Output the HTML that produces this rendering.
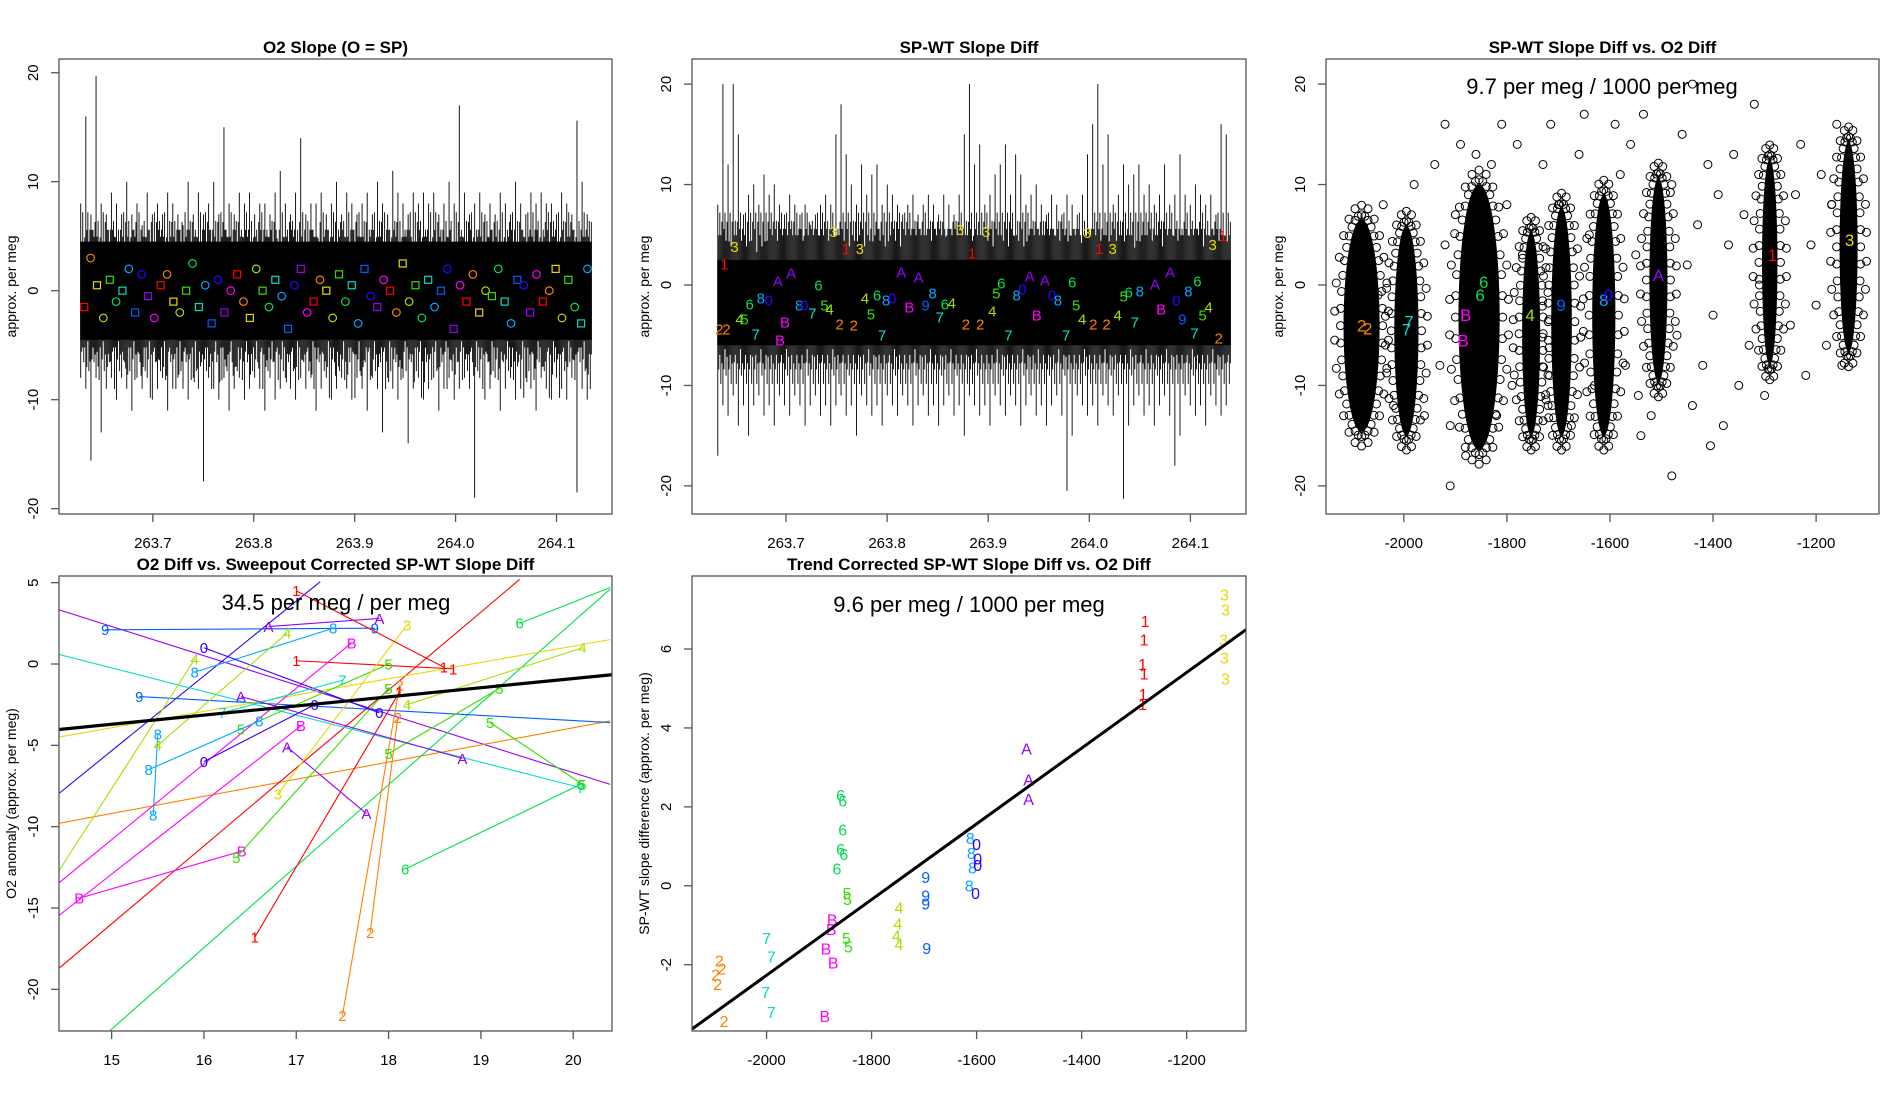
<!DOCTYPE html>
<html><head><meta charset="utf-8"><style>
body{margin:0;background:#fff}
svg{display:block;font-family:"Liberation Sans",sans-serif}
</style></head><body>
<svg id="s" width="1900" height="1100" xmlns="http://www.w3.org/2000/svg"></svg>
<script>
// ---------- data ----------
const palette = {'1':'#FF0000','2':'#FF8000','3':'#E8D800','4':'#A8E000','5':'#33E000','6':'#00E050','7':'#00E0C8','8':'#00A8FF','9':'#0060FF','0':'#3000FF','A':'#9900FF','B':'#FF00FF'};
const codes = ['1','2','3','4','5','6','7','8','9','0','A','B'];
// panel 1 spikes (100 bins)
const p1Hi = [8,16,7,19.7,8,7,9,8,7,10,7,8,6,9,7,8,7,9,8,7,6,10,7,9,7,8,10,7,15,8,7,9,8,9,7,8,8,7,9,11,8,7,9,14,7,8,8,9,7,8,10,7,9,8,7,8,9,7,10,8,7,11,9,8,7,9,8,9,8,9,7,8,10,8,17,9,7,8,9,7,8,7,9,8,7,10,8,7,9,8,9,8,8,7,9,8,7,15.6,10,7];
const p1Lo = [-8,-9,-15.6,-8,-13,-9,-8,-10,-8,-9,-11,-8,-9,-8,-10,-9,-8,-11,-9,-8,-9,-10,-8,-9,-17.5,-8,-9,-10,-8,-11,-9,-8,-10,-9,-8,-9,-11,-8,-10,-9,-8,-9,-10,-8,-9,-8,-11,-9,-8,-10,-9,-8,-9,-10,-8,-9,-11,-8,-9,-13,-8,-9,-10,-8,-14,-9,-8,-10,-9,-8,-11,-9,-8,-10,-9,-8,-9,-19,-8,-10,-9,-8,-11,-9,-8,-10,-9,-8,-9,-11,-8,-9,-10,-8,-9,-10,-8,-18.5,-9,-10];
const p1Marks = [-1.5,3,0.5,-2.5,1,-1,0,2,-2,1.5,-0.5,-2.5,0.5,1.5,-1,-2,0,2.5,-1.5,0.5,-3,1,-2,0,1.5,-1,-2.5,2,0,-1.5,1,-0.5,-3.5,0.5,2,-2,-1,1,0,-2.5,1.5,-1,0.5,-3,2,-0.5,-1.5,1,0,-2,2.5,-1,0.5,-2.5,1,-1.5,0,2,-3.5,0.5,-1,1.5,-2,0,-0.5,2,-1,-3,1,0.5,-2,1.5,-1,0,2,-2.5,1,-1.5,-3,2];
// panel 2 spikes (100 bins)
const p2Hi = [8,20,12,20,15,7,9,10,8,11,9,10,8,7,9,8,7,8,6,7,8,9,8,15,18,13,10,8,12,9,11,12,8,10,9,8,7,8,9,7,8,9,8,7,9,8,7,9,15,20,12,14,8,9,11,12,14,9,13,11,8,9,10,8,7,9,8,7,9,8,7,9,13,16,20,12,15,8,9,12,10,11,12,9,10,8,9,12,8,9,13,9,8,10,9,8,9,7,16,15];
const p2Lo = [-17,-12,-13,-11,-14,-12,-15,-12,-11,-13,-12,-14,-11,-12,-13,-11,-12,-14,-12,-11,-13,-12,-14,-12,-11,-13,-12,-15,-11,-12,-13,-12,-14,-11,-12,-13,-11,-12,-14,-12,-11,-13,-12,-14,-12,-11,-13,-12,-15,-11,-12,-13,-12,-14,-11,-12,-13,-11,-12,-14,-12,-11,-13,-12,-14,-12,-11,-13,-20.5,-15,-11,-12,-13,-12,-14,-11,-12,-13,-11,-21.3,-14,-12,-11,-13,-12,-14,-12,-11,-13,-18,-15,-11,-12,-13,-12,-14,-11,-12,-13,-12];
const p2LabT = [263.634,263.641,263.639,263.649,263.654,263.659,263.664,263.670,263.675,263.683,263.692,263.694,263.699,263.705,263.713,263.718,263.726,263.732,263.738,263.743,263.747,263.753,263.759,263.767,263.773,263.778,263.784,263.790,263.795,263.799,263.805,263.814,263.822,263.831,263.838,263.845,263.852,263.857,263.864,263.872,263.878,263.884,263.892,263.898,263.904,263.908,263.913,263.920,263.928,263.934,263.941,263.948,263.956,263.963,263.969,263.977,263.983,263.987,263.993,263.998,264.004,264.010,264.017,264.023,264.028,264.034,264.039,264.045,264.050,264.065,264.071,264.080,264.086,264.092,264.098,264.104,264.107,264.112,264.118,264.122,264.128,264.132];
const p2LabY = [-4.4,-4.4,2.1,3.8,-3.4,-3.4,-1.9,-4.9,-1.3,-1.5,0.4,-5.5,-3.7,1.2,-2,-2,-2.8,0,-2,-2.4,5.3,-3.9,3.6,-4,3.6,-1.3,-2.9,-1,-5,-1.5,-1.3,1.3,-2.2,0.8,-2,-0.8,-3.2,-1.9,-1.8,5.5,-3.9,3.2,-3.9,5.3,-2.6,-0.8,0.2,-5,-1,-0.4,0.9,-3,0.5,-1,-1.5,-5,0.3,-2,-3.4,5.2,-3.9,3.6,-3.9,3.6,-3,-1.1,-0.7,-3.7,-0.6,0.1,-2.4,1.3,-1.5,-3.4,-0.6,-4.8,0.4,-3,-2.2,4,-5.3,4.9];
const p2LabC = ['2','2','1','3','4','5','6','7','8','0','A','B','B','A','8','0','7','6','5','4','3','2','1','2','3','4','5','6','7','8','0','A','B','A','9','8','7','6','4','3','2','1','2','3','4','5','6','7','8','0','A','B','A','0','8','7','6','5','4','3','2','1','2','3','4','5','6','7','8','A','B','A','0','9','8','7','6','5','4','3','2','1'];
// panel 3 clusters
const p3ClX = [-2082,-1995,-1854,-1753,-1694,-1612,-1506,-1290,-1137];
const p3ClTop = [6.5,5.9,10,5.3,7.7,9,10.7,12.5,14.3];
const p3ClBot = [-14.6,-15,-16.4,-15,-15,-15,-9.7,-8,-6.7];
const p3ClW = [70,47,80,35,40,45,35,30,35];
const p3ScX = [-2050,-2040,-2020,-1980,-1960,-1940,-1930,-1920,-1910,-1900,-1890,-1880,-1830,-1820,-1810,-1800,-1790,-1780,-1770,-1730,-1720,-1715,-1700,-1675,-1660,-1650,-1640,-1630,-1590,-1580,-1570,-1560,-1550,-1545,-1535,-1520,-1480,-1470,-1460,-1450,-1440,-1430,-1420,-1410,-1400,-1390,-1380,-1370,-1360,-1350,-1340,-1330,-1320,-1310,-1300,-1250,-1240,-1230,-1220,-1210,-1200,-1190,-1180,-1170,-1160,-1150,-1440,-1480,-1910,-1540,-1405,-1920,-1860];
const p3ScY = [-1,8,-12,10,-13,12,-8,4,-14,7,14,-17,12,-13,16,8,-10,14,3,12,-12,16,8,-14,13,17,5,-10,16,11,-8,14,3,-11,17,-13,10,-5,15,2,-12,6,-8,12,-3,9,-14,4,13,-10,7,-6,18,0,-11,-4,9,14,-9,4,-2,11,-6,8,16,-8,20,-19,-20,-15,-16,16,13];
const p3LabX = [-2082,-2070,-1995,-1990,-1880,-1885,-1852,-1845,-1755,-1695,-1612,-1603,-1506,-1285,-1135];
const p3LabY = [-4,-4.3,-4.4,-3.6,-3,-5.5,-1,0.3,-3,-2,-1.5,-1,1,3,4.5];
const p3LabC = ['2','2','7','7','B','B','6','6','4','9','8','0','A','1','3'];
// panel 4 segments
const p4X0 = [14.42,14.42,14.42,14.97,14.42,15.3,14.93,14.42,14.42,18.18,19.42,17.5,17.8,14.65,14.42,16.55,16.9,17.0,16.35,15.45,14.42,14.42,15.9,16.0,16.4,16.7,16.2,15.5,16.0,15.4,18.0,18.2,16.8,19.1,16.4,17.0];
const p4Y0 = [3.35,-9.8,-18.75,-22.6,-8,-2,2.1,0.6,-4.5,-12.6,2.5,-21.6,-16.5,-14.4,-15.5,-16.8,-5.1,0.2,-11.9,-9.3,-12.8,-13.5,-0.5,1.0,-4.0,2.3,-3.0,-5.0,-6.0,-6.5,-5.5,-2.5,-8.0,-3.6,-2.0,4.5];
const p4X1 = [20.4,20.4,19.42,20.4,17.26,20.4,17.85,20.08,20.4,20.08,20.4,18.12,18.1,16.41,17.05,18.12,17.76,18.7,18.0,15.5,15.9,17.6,17.4,17.9,18.0,17.9,17.5,16.9,17.2,16.6,19.2,20.1,18.2,20.1,18.8,18.6];
const p4Y1 = [-7.4,-3.5,5.2,4.6,5.06,-3.6,2.2,-7.6,1.5,-7.4,4.7,-1.3,-3.3,-11.5,-3.8,-1.7,-9.2,-0.3,-1.5,-4.3,0.3,1.3,2.2,-3.0,0.0,2.8,-1.0,1.9,-2.5,-3.5,-1.5,1.0,2.4,-7.4,-5.8,-0.2];
const p4C = ['A','2','1','6','0','9','9','7','3','6','6','2','2','B','B','1','A','1','5','8','4','B','8','0','5','A','7','4','0','8','5','4','3','5','A','1'];
const p4FitX = [14.42,20.42];
const p4FitY = [-4.03,-0.66];
// panel 5 points
const p5X = [-2097,-2090,-2085,-2093,-2081,-2000,-1991,-2002,-1991,-1875,-1873,-1887,-1889,-1877,-1859,-1855,-1855,-1859,-1853,-1866,-1847,-1846,-1848,-1844,-1748,-1750,-1753,-1748,-1697,-1697,-1697,-1695,-1612,-1610,-1614,-1608,-1600,-1598,-1602,-1598,-1505,-1501,-1501,-1279,-1281,-1284,-1281,-1283,-1284,-1128,-1126,-1130,-1128,-1126];
const p5Y = [-2.25,-1.9,-2.1,-2.5,-3.43,-1.33,-1.8,-2.7,-3.2,-0.86,-1.95,-1.6,-3.3,-1.1,2.29,2.16,1.42,0.93,0.8,0.43,-0.19,-0.34,-1.33,-1.54,-0.56,-0.96,-1.27,-1.48,0.22,-0.25,-0.46,-1.58,1.2,0.83,0,0.46,1.05,0.68,-0.19,0.52,3.47,2.69,2.19,6.7,6.24,5.62,5.37,4.85,4.6,7.38,7.0,6.24,5.78,5.25];
const p5C = ['2','2','2','2','2','7','7','7','7','B','B','B','B','B','6','6','6','6','6','6','5','5','5','5','4','4','4','4','9','9','9','9','8','8','8','8','0','0','0','0','A','A','A','1','1','1','1','1','1','3','3','3','3','3'];
const p5FitX = [-2142,-1087];
const p5FitY = [-3.63,6.49];

// ---------- helpers ----------
const NS='http://www.w3.org/2000/svg';
const svg=document.getElementById('s');
function mk(tag,attrs,parent,text){const e=document.createElementNS(NS,tag);for(const k in attrs)e.setAttribute(k,attrs[k]);if(text!==undefined)e.textContent=text;(parent||svg).appendChild(e);return e;}
function scale(d0,d1,r0,r1){return v=>r0+(v-d0)/(d1-d0)*(r1-r0);}

function panel(id,box,xd,yd,title,xticks,xlabs,yticks,ylabs,ytitle,ytitleX){
  const g=mk('g',{},svg);
  
  
  const sx=scale(xd[0],xd[1],box[0],box[2]), sy=scale(yd[0],yd[1],box[3],box[1]);
  const cp=mk('clipPath',{id:'c'+id},g);
  mk('rect',{x:box[0],y:box[1],width:box[2]-box[0],height:box[3]-box[1]},cp);
  const plot=mk('g',{'clip-path':'url(#c'+id+')'},g);
  
  
  const ax=mk('g',{},g);
  
  
  mk('rect',{x:box[0],y:box[1],width:box[2]-box[0],height:box[3]-box[1],fill:'none',stroke:'#555','stroke-width':1.3},ax);
  xticks.forEach((t,i)=>{const x=sx(t);mk('line',{x1:x,x2:x,y1:box[3],y2:box[3]+8,stroke:'#555','stroke-width':1.3},ax);
    const tl=mk('text',{x:x,y:box[3]+34,'text-anchor':'middle','font-size':15},ax,xlabs[i]);
    });
  yticks.forEach((t,i)=>{const y=sy(t);mk('line',{x1:box[0],x2:box[0]-8,y1:y,y2:y,stroke:'#555','stroke-width':1.3},ax);
    const tl=mk('text',{x:box[0]-21,y:y,'text-anchor':'middle','font-size':15,transform:`rotate(-90 ${box[0]-21} ${y})`},ax,ylabs[i]);
    });
  const tt=mk('text',{x:(box[0]+box[2])/2,y:box[1]-6,'text-anchor':'middle','font-size':17,'font-weight':'bold'},g,title);
  
  const yc=(box[1]+box[3])/2;
  const yt=mk('text',{x:ytitleX,y:yc,'text-anchor':'middle','font-size':14,transform:`rotate(-90 ${ytitleX} ${yc})`},g,ytitle);
  
  return {g:plot,sx,sy};
}
function label(p,x,y,c,size){const t=mk('text',{x:p.sx(x),y:p.sy(y)+size*0.36,'text-anchor':'middle','font-size':size,fill:palette[c]},p.g,c);
  return t;}

// dense time-series band: per bin several thin lines of decreasing extent
const fHi=[1,0.62,0.8,0.55,0.7], fLo=[1,0.7,0.58,0.82,0.65];
function band(P,hi,lo,t0,t1,coreHi,coreLo,name){
  const n=hi.length,w=(t1-t0)/n;
  const r=mk('rect',{x:P.sx(t0),y:P.sy(coreHi),width:P.sx(t1)-P.sx(t0),height:P.sy(coreLo)-P.sy(coreHi),fill:'#000'},P.g);
  
  const px=(P.sx(t1)-P.sx(t0))/n;
  for(let i=0;i<n;i++){
    for(let k=0;k<5;k++){
      const x=P.sx(t0+w*i)+px*(k+0.5)/5;
      const j=(i+k*37)%n;
      const h = k==0?hi[i]:Math.min(hi[j],9)*fHi[k];
      const l = k==0?lo[i]:Math.max(lo[j],-12)*fLo[k];
      const ln=mk('line',{x1:x,x2:x,y1:P.sy(l),y2:P.sy(h),stroke:'#000','stroke-width':0.9},P.g);
      
    }
  }
}

// ---------- panel 1 ----------
const P1=panel('p1',[59,59,612,514],[263.607,264.155],[-20.49,21.26],'O2 Slope (O = SP)',[263.7,263.8,263.9,264.0,264.1],['263.7','263.8','263.9','264.0','264.1'],[20,10,0,-10,-20],['20','10','0','-10','-20'],'approx. per meg',16);
(function(){
 band(P1,p1Hi,p1Lo,263.628,264.135,4.5,-4.5,'p1');
 const m=p1Marks.length,dt=(264.135-263.63)/m;
 p1Marks.forEach((v,i)=>{const x=P1.sx(263.632+dt*i),y=P1.sy(v),c=palette[codes[i%12]];let e;
  if(i%2==0)e=mk('rect',{x:x-3.5,y:y-3.5,width:7,height:7,fill:'none',stroke:c,'stroke-width':1.2},P1.g);
  else e=mk('circle',{cx:x,cy:y,r:3.8,fill:'none',stroke:c,'stroke-width':1.2},P1.g);
  });
})();

// ---------- panel 2 ----------
const P2=panel('p2',[692,59,1246,514],[263.607,264.155],[-22.8,22.5],'SP-WT Slope Diff',[263.7,263.8,263.9,264.0,264.1],['263.7','263.8','263.9','264.0','264.1'],[20,10,0,-10,-20],['20','10','0','-10','-20'],'approx. per meg',649);
(function(){
 band(P2,p2Hi,p2Lo,263.632,264.140,2.5,-6,'p2');
 p2LabT.forEach((t,i)=>label(P2,t,p2LabY[i],p2LabC[i],15));
})();

// ---------- panel 3 ----------
const P3=panel('p3',[1326,59,1879,514],[-2151,-1078],[-22.8,22.5],'SP-WT Slope Diff vs. O2 Diff',[-2000,-1800,-1600,-1400,-1200],['-2000','-1800','-1600','-1400','-1200'],[20,10,0,-10,-20],['20','10','0','-10','-20'],'approx. per meg',1283);
(function(){
 p3ClX.forEach((cx,i)=>{const x=P3.sx(cx),yt=P3.sy(p3ClTop[i]),yb=P3.sy(p3ClBot[i]),rx=(P3.sx(cx+p3ClW[i]/2)-P3.sx(cx-p3ClW[i]/2))/2;
  const cy=(yt+yb)/2, ry=(yb-yt)/2;
  const e=mk('ellipse',{cx:x,cy:cy,rx:rx,ry:ry,fill:'#000'},P3.g);
  
  [[3,40],[9,26]].forEach(([off,cnt],ri)=>{
   for(let k=0;k<cnt;k++){const a=(k+ri*0.5)/cnt*2*Math.PI;
    const c=mk('circle',{cx:x+Math.cos(a)*(rx+off),cy:cy+Math.sin(a)*(ry+off*1.6),r:4,fill:'none',stroke:'#000','stroke-width':1},P3.g);
    }});});
 p3ScX.forEach((x,i)=>{const c=mk('circle',{cx:P3.sx(x),cy:P3.sy(p3ScY[i]),r:4,fill:'none',stroke:'#000','stroke-width':1},P3.g);
  });
 p3LabX.forEach((x,i)=>label(P3,x,p3LabY[i],p3LabC[i],17));
 const a=mk('text',{x:1602,y:94,'text-anchor':'middle','font-size':22},P3.g,'9.7 per meg / 1000 per meg');
 
})();

// ---------- panel 4 ----------
const P4=panel('p4',[59,576,612,1031],[14.43,20.42],[-22.56,5.41],'O2 Diff vs. Sweepout Corrected SP-WT Slope Diff',[15,16,17,18,19,20],['15','16','17','18','19','20'],[5,0,-5,-10,-15,-20],['5','0','-5','-10','-15','-20'],'O2 anomaly (approx. per meg)',16);
(function(){
 p4X0.forEach((x0,i)=>{const c=palette[p4C[i]];
  const l=mk('line',{x1:P4.sx(x0),y1:P4.sy(p4Y0[i]),x2:P4.sx(p4X1[i]),y2:P4.sy(p4Y1[i]),stroke:c,'stroke-width':1.1},P4.g);
  
  if(x0>14.5&&p4Y0[i]>-22)label(P4,x0,p4Y0[i],p4C[i],15);
  if(p4X1[i]<20.3&&p4Y1[i]<5)label(P4,p4X1[i],p4Y1[i],p4C[i],15);});
 const f=mk('line',{x1:P4.sx(p4FitX[0]),y1:P4.sy(p4FitY[0]),x2:P4.sx(p4FitX[1]),y2:P4.sy(p4FitY[1]),stroke:'#000','stroke-width':3.2},P4.g);
 
 const a=mk('text',{x:336,y:610,'text-anchor':'middle','font-size':22},P4.g,'34.5 per meg / per meg');
 
})();

// ---------- panel 5 ----------
const P5=panel('p5',[692,576,1246,1031],[-2142,-1087],[-3.68,7.85],'Trend Corrected SP-WT Slope Diff vs. O2 Diff',[-2000,-1800,-1600,-1400,-1200],['-2000','-1800','-1600','-1400','-1200'],[-2,0,2,4,6],['-2','0','2','4','6'],'SP-WT slope difference (approx. per meg)',649);
(function(){
 p5X.forEach((x,i)=>label(P5,x,p5Y[i],p5C[i],16));
 const f=mk('line',{x1:P5.sx(p5FitX[0]),y1:P5.sy(p5FitY[0]),x2:P5.sx(p5FitX[1]),y2:P5.sy(p5FitY[1]),stroke:'#000','stroke-width':3},P5.g);
 
 const a=mk('text',{x:969,y:612,'text-anchor':'middle','font-size':22},P5.g,'9.6 per meg / 1000 per meg');
 
})();
</script>
</body></html>
